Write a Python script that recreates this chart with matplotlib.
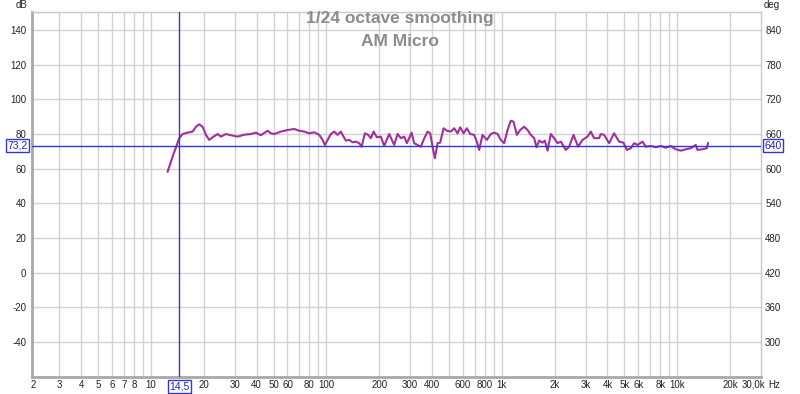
import matplotlib
matplotlib.use("Agg")
import matplotlib.pyplot as plt
from matplotlib.transforms import blended_transform_factory

plt.rcParams['font.family'] = ['Liberation Sans', 'DejaVu Sans']
plt.rcParams['axes.unicode_minus'] = False

freq = [12.45, 13.29, 14.50, 15.16, 16.19, 17.29, 18.05, 18.85, 19.71, 20.58,
        21.49, 22.47, 23.99, 25.06, 26.76, 28.57, 31.19, 34.01, 37.13, 39.66,
        42.35, 46.24, 48.29, 50.43, 55.05, 60.09, 65.53, 69.98, 74.72, 79.80,
        85.22, 91.00, 95.12, 98.05, 101.6, 106.1, 110.8, 115.8, 120.9, 125.3,
        129.2, 134.9, 141.1, 147.3, 153.8, 158.7, 165.8, 173.1, 179.3, 185.8,
        194.0, 204.5, 213.5, 228.0, 243.4, 254.5, 265.8, 277.6, 287.6, 305.9,
        316.4, 330.8, 345.6, 358.0, 377.3, 390.6, 402.9, 415.3, 430.3, 445.2,
        465.5, 486.1, 512.3, 535.0, 559.4, 578.8, 605.2, 632.0, 659.9, 695.5,
        720.5, 742.7, 776.2, 821.3, 865.6, 903.8, 945.2, 987.0, 1031, 1078,
        1125, 1166, 1218, 1272, 1340, 1401, 1463, 1528, 1577, 1632,
        1706, 1758, 1822, 1902, 1986, 2077, 2169, 2316, 2418, 2562,
        2722, 2883, 3078, 3214, 3356, 3584, 3665, 3827, 4087, 4364,
        4660, 4936, 5155, 5433, 5674, 5932, 6334, 6614, 7063, 7543,
        8054, 8601, 9184, 9806, 10470, 11180, 11940, 12750, 13040, 13920,
        14730, 14980]
spl = [58.3, 66.9, 77.6, 80.0, 80.8, 81.4, 84.2, 85.6, 84.2, 79.5,
       76.6, 78.1, 80.0, 78.5, 80.0, 79.3, 78.5, 79.6, 80.0, 80.8,
       79.3, 81.9, 80.4, 80.0, 81.4, 82.3, 82.9, 81.9, 81.4, 80.4,
       81.0, 79.5, 76.6, 73.7, 76.6, 80.0, 81.4, 79.5, 81.4, 78.5,
       76.2, 76.6, 75.2, 75.6, 74.7, 72.7, 80.4, 79.5, 77.6, 81.4,
       78.1, 78.5, 73.1, 80.0, 73.7, 80.0, 77.6, 78.5, 74.7, 80.8,
       74.7, 73.7, 72.7, 76.6, 81.4, 80.4, 72.7, 66.0, 74.7, 75.0,
       83.3, 81.9, 81.4, 83.3, 80.4, 83.9, 80.4, 83.3, 80.0, 79.5,
       75.6, 70.8, 79.5, 76.6, 80.0, 80.8, 80.0, 76.6, 74.7, 82.3,
       87.7, 87.1, 79.5, 82.3, 84.2, 82.3, 79.5, 77.6, 72.4, 76.2,
       75.0, 76.2, 70.4, 80.0, 77.6, 74.7, 75.6, 70.8, 72.7, 79.5,
       72.7, 76.6, 78.5, 81.4, 77.6, 77.6, 80.0, 79.5, 74.7, 80.4,
       75.6, 75.0, 70.8, 71.8, 74.7, 73.7, 75.6, 72.7, 73.1, 72.4,
       73.1, 72.1, 73.1, 71.2, 70.4, 71.2, 71.8, 73.7, 70.8, 71.2,
       71.8, 74.7]

grid_freqs = [3, 4, 5, 6, 7, 8, 9, 10, 20, 30, 40, 50, 60, 70, 80, 90,
              100, 200, 300, 400, 500, 600, 700, 800, 900,
              1000, 2000, 3000, 4000, 5000, 6000, 7000, 8000, 9000, 10000, 20000]
grid_labels = ['3', '4', '5', '6', '7', '8', '', '10', '20', '30', '40', '50', '60', '', '80', '',
               '100', '200', '300', '400', '', '600', '', '800', '',
               '1k', '2k', '3k', '4k', '5k', '6k', '', '8k', '', '10k', '20k']
db_ticks = [140, 120, 100, 80, 60, 40, 20, 0, -20, -40]
deg_ticks = [840, 780, 720, 660, 600, 540, 480, 420, 360, 300]

cursor_f = 14.5
cursor_db = 73.2
cursor_deg = 640

x_lo, x_hi = 2.1, 30000
y_lo, y_hi = -60.2, 150.4

fig = plt.figure(figsize=(8, 3.94), dpi=100)
ax = fig.add_axes([32 / 800, 17 / 394, 729 / 800, 365 / 394])
ax.set_xscale('log')
ax.set_xlim(x_lo, x_hi)
ax.set_ylim(y_lo, y_hi)

ax.set_xticks(grid_freqs)
ax.set_xticklabels(grid_labels)
ax.xaxis.set_minor_locator(plt.NullLocator())
ax.set_yticks(db_ticks)
ax.grid(True, color='#d2d2d2', linewidth=1)
ax.set_axisbelow(True)
ax.tick_params(length=0, labelsize=7, colors='#222222', pad=4)
ax.tick_params(axis='x', pad=2)

for side in ['top', 'right']:
    ax.spines[side].set_color('#c8c8c8')
    ax.spines[side].set_linewidth(1)
for side in ['left', 'bottom']:
    ax.spines[side].set_color('#a8a8a8')
    ax.spines[side].set_linewidth(2)

ax2 = ax.twinx()
ax2.set_ylim(3 * y_lo + 420, 3 * y_hi + 420)
ax2.set_yticks(deg_ticks)
ax2.tick_params(length=0, labelsize=7, colors='#222222', pad=3)
for s in ax2.spines.values():
    s.set_visible(False)

ax.plot(freq, spl, color='#a0309a', linewidth=1.5, zorder=3)

# cursor lines
ax.axvline(cursor_f, color='#3535d0', linewidth=1, zorder=4)
ax.axhline(cursor_db, color='#3535d0', linewidth=1, zorder=4)

box = dict(boxstyle='square,pad=0.15', facecolor='white', edgecolor='#3535d0', linewidth=1)
tr_x = blended_transform_factory(ax.transData, ax.transAxes)
tr_y = blended_transform_factory(ax.transAxes, ax.transData)
lab_y = -2.8 / 365
ax.text(cursor_f, lab_y - 1.5 / 365, '14,5', transform=tr_x, ha='center', va='top',
        fontsize=7.5, color='#2020c0', bbox=box)
ax.text(-0.006, cursor_db, '73,2', transform=tr_y, ha='right', va='center',
        fontsize=7.5, color='#2020c0', bbox=box)
ax2.text(1.005, cursor_deg, str(cursor_deg), transform=blended_transform_factory(ax2.transAxes, ax2.transData),
         ha='left', va='center', fontsize=7.5, color='#2020c0', bbox=box)

# axis end labels
ax.text(0.002, lab_y, '2', transform=ax.transAxes, ha='center', va='top', fontsize=7, color='#222222')
ax.text(0.99, lab_y, '30,0k', transform=ax.transAxes, ha='center', va='top', fontsize=7, color='#222222')
ax.text(1.01, lab_y, 'Hz', transform=ax.transAxes, ha='left', va='top', fontsize=7, color='#222222')
fig.text(22 / 800, 1 - 5 / 394, 'dB', ha='center', va='center', fontsize=7, color='#222222')
fig.text(772 / 800, 1 - 5 / 394, 'deg', ha='center', va='center', fontsize=7, color='#222222')

# title
fig.text(0.5, 1 - 18 / 394, '1/24 octave smoothing', ha='center', va='center',
         fontsize=12.5, fontweight='bold', color='#8c8c8c')
fig.text(0.5, 1 - 41 / 394, 'AM Micro', ha='center', va='center',
         fontsize=12.5, fontweight='bold', color='#8c8c8c')

fig.savefig('out.png', dpi=100)
